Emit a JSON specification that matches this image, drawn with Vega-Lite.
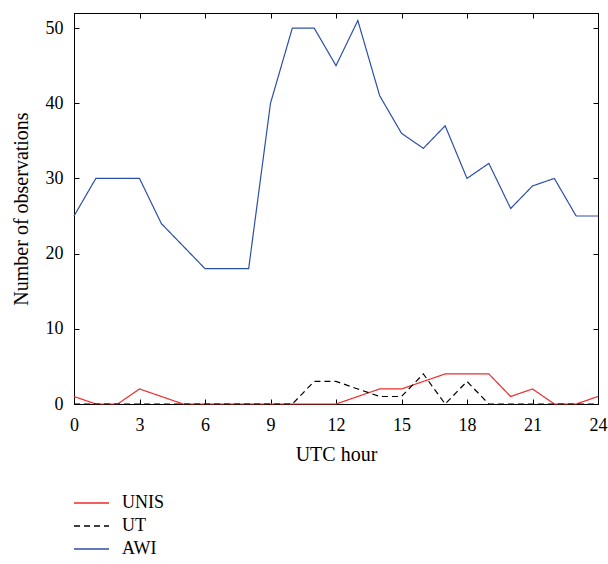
{
  "$schema": "https://vega.github.io/schema/vega-lite/v6.json",
  "autosize": "none",
  "width": 524,
  "height": 391,
  "padding": {"left": 74, "top": 13, "right": 10, "bottom": 160},
  "background": "white",
  "config": {
    "font": "Liberation Serif",
    "view": {"stroke": "black", "strokeWidth": 1},
    "axis": {"labelFont": "Liberation Serif", "titleFont": "Liberation Serif", "labelFontSize": 18, "titleFontSize": 20, "titleFontWeight": "normal", "labelColor": "black", "titleColor": "black", "domainColor": "black", "tickColor": "black", "grid": false, "labelFlush": false},
    "legend": {"labelFont": "Liberation Serif", "labelFontSize": 18, "labelColor": "black", "labelLimit": 200}
  },
  "data": {"values": [
    {"hour":0,"src":"UNIS","n":1},{"hour":1,"src":"UNIS","n":0},{"hour":2,"src":"UNIS","n":0},{"hour":3,"src":"UNIS","n":2},{"hour":4,"src":"UNIS","n":1},{"hour":5,"src":"UNIS","n":0},{"hour":6,"src":"UNIS","n":0},{"hour":7,"src":"UNIS","n":0},{"hour":8,"src":"UNIS","n":0},{"hour":9,"src":"UNIS","n":0},{"hour":10,"src":"UNIS","n":0},{"hour":11,"src":"UNIS","n":0},{"hour":12,"src":"UNIS","n":0},{"hour":13,"src":"UNIS","n":1},{"hour":14,"src":"UNIS","n":2},{"hour":15,"src":"UNIS","n":2},{"hour":16,"src":"UNIS","n":3},{"hour":17,"src":"UNIS","n":4},{"hour":18,"src":"UNIS","n":4},{"hour":19,"src":"UNIS","n":4},{"hour":20,"src":"UNIS","n":1},{"hour":21,"src":"UNIS","n":2},{"hour":22,"src":"UNIS","n":0},{"hour":23,"src":"UNIS","n":0},{"hour":24,"src":"UNIS","n":1},
    {"hour":0,"src":"UT","n":0},{"hour":1,"src":"UT","n":0},{"hour":2,"src":"UT","n":0},{"hour":3,"src":"UT","n":0},{"hour":4,"src":"UT","n":0},{"hour":5,"src":"UT","n":0},{"hour":6,"src":"UT","n":0},{"hour":7,"src":"UT","n":0},{"hour":8,"src":"UT","n":0},{"hour":9,"src":"UT","n":0},{"hour":10,"src":"UT","n":0},{"hour":11,"src":"UT","n":3},{"hour":12,"src":"UT","n":3},{"hour":13,"src":"UT","n":2},{"hour":14,"src":"UT","n":1},{"hour":15,"src":"UT","n":1},{"hour":16,"src":"UT","n":4},{"hour":17,"src":"UT","n":0},{"hour":18,"src":"UT","n":3},{"hour":19,"src":"UT","n":0},{"hour":20,"src":"UT","n":0},{"hour":21,"src":"UT","n":0},{"hour":22,"src":"UT","n":0},{"hour":23,"src":"UT","n":0},{"hour":24,"src":"UT","n":0},
    {"hour":0,"src":"AWI","n":25},{"hour":1,"src":"AWI","n":30},{"hour":2,"src":"AWI","n":30},{"hour":3,"src":"AWI","n":30},{"hour":4,"src":"AWI","n":24},{"hour":5,"src":"AWI","n":21},{"hour":6,"src":"AWI","n":18},{"hour":7,"src":"AWI","n":18},{"hour":8,"src":"AWI","n":18},{"hour":9,"src":"AWI","n":40},{"hour":10,"src":"AWI","n":50},{"hour":11,"src":"AWI","n":50},{"hour":12,"src":"AWI","n":45},{"hour":13,"src":"AWI","n":51},{"hour":14,"src":"AWI","n":41},{"hour":15,"src":"AWI","n":36},{"hour":16,"src":"AWI","n":34},{"hour":17,"src":"AWI","n":37},{"hour":18,"src":"AWI","n":30},{"hour":19,"src":"AWI","n":32},{"hour":20,"src":"AWI","n":26},{"hour":21,"src":"AWI","n":29},{"hour":22,"src":"AWI","n":30},{"hour":23,"src":"AWI","n":25},{"hour":24,"src":"AWI","n":25}
  ]},
  "layer": [
    {
      "mark": {"type": "line", "strokeWidth": 1.2},
      "encoding": {
        "x": {"field": "hour", "type": "quantitative", "scale": {"domain": [0, 24], "nice": false}, "axis": {"values": [0,3,6,9,12,15,18,21,24], "tickSize": -5, "labelPadding": 17, "title": "UTC hour", "titlePadding": 10}},
        "y": {"field": "n", "type": "quantitative", "scale": {"domain": [0, 52], "nice": false}, "axis": {"values": [0,10,20,30,40,50], "tickSize": -5, "labelPadding": 16, "title": "Number of observations", "titlePadding": 14}},
        "color": {"field": "src", "type": "nominal", "scale": {"domain": ["UNIS","UT","AWI"], "range": ["#ee2b2b","#000000","#2c4fa6"]},
          "legend": {"title": null, "orient": "none", "legendX": 6.5, "legendY": 479, "symbolType": "M-1.75,0H1.75", "symbolSize": 400, "symbolStrokeWidth": 1.5, "rowPadding": 3, "labelOffset": 19.5, "labelFont": "Liberation Serif", "labelFontSize": 18}},
        "strokeDash": {"field": "src", "type": "nominal", "scale": {"domain": ["UNIS","UT","AWI"], "range": [[1,0],[6,4],[1,0]]},
          "legend": {"title": null, "orient": "none", "legendX": 6.5, "legendY": 479, "symbolType": "M-1.75,0H1.75", "symbolSize": 400, "symbolStrokeWidth": 1.5, "rowPadding": 3, "labelOffset": 19.5, "labelFont": "Liberation Serif", "labelFontSize": 18}}
      }
    },
    {
      "mark": {"type": "rule", "opacity": 0},
      "encoding": {
        "x": {"datum": 0, "type": "quantitative", "axis": {"orient": "top", "values": [0,3,6,9,12,15,18,21,24], "tickSize": -5, "labels": false, "title": null}},
        "y": {"datum": 0, "type": "quantitative", "axis": {"orient": "right", "values": [0,10,20,30,40,50], "tickSize": -5, "labels": false, "title": null}}
      }
    }
  ],
  "resolve": {"axis": {"x": "independent", "y": "independent"}}
}
